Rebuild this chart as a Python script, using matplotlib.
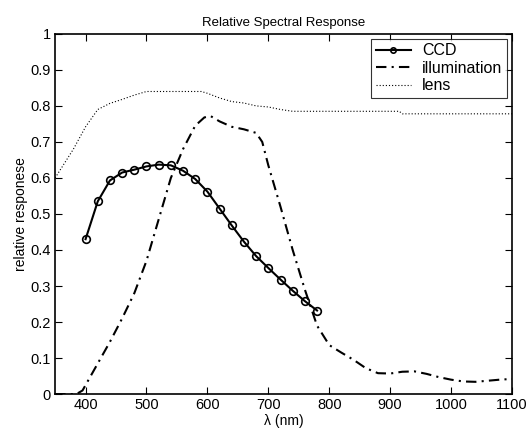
import matplotlib
matplotlib.use("Agg")
import matplotlib.pyplot as plt

# ── Data ──────────────────────────────────────────────────────────────────────
ccd_nm = [400, 420, 440, 460, 480, 500, 520, 540, 560, 580,
          600, 620, 640, 660, 680, 700, 720, 740, 760, 780]
ccd_resp = [0.430, 0.535, 0.593, 0.615, 0.623, 0.632, 0.637, 0.635, 0.620, 0.597,
            0.562, 0.515, 0.468, 0.423, 0.383, 0.350, 0.318, 0.287, 0.258, 0.232]

illum_nm = [350, 370, 385, 395, 405, 420, 440, 460, 480, 500, 520, 540, 560,
            580, 595, 605, 620, 640, 660, 680, 690, 700, 720, 740, 760, 780,
            800, 820, 840, 860, 880, 900, 920, 940, 960, 980, 1000, 1020,
            1040, 1060, 1080, 1100]
illum_resp = [0.0, 0.0, 0.0, 0.01, 0.04, 0.085, 0.145, 0.21, 0.28, 0.37, 0.485,
              0.60, 0.68, 0.745, 0.768, 0.772, 0.757, 0.742, 0.735, 0.725, 0.70,
              0.635, 0.52, 0.40, 0.29, 0.19, 0.136, 0.115, 0.095, 0.072, 0.058,
              0.057, 0.062, 0.063, 0.056, 0.047, 0.040, 0.035, 0.034, 0.037,
              0.040, 0.042]

lens_nm = [350, 365, 380, 400, 420, 440, 460, 480, 500, 520, 540, 560, 580,
           590, 600, 620, 640, 660, 680, 700, 720, 740, 760, 800, 850, 900,
           915, 920, 950, 1000, 1050, 1100]
lens_resp = [0.60, 0.64, 0.68, 0.742, 0.79, 0.807, 0.818, 0.83, 0.84, 0.84,
             0.84, 0.84, 0.84, 0.84, 0.835, 0.822, 0.812, 0.808, 0.80, 0.797,
             0.79, 0.785, 0.785, 0.785, 0.785, 0.785, 0.785, 0.778, 0.778,
             0.778, 0.778, 0.778]

x_ticks = [400, 500, 600, 700, 800, 900, 1000, 1100]
y_ticks = [0, 0.1, 0.2, 0.3, 0.4, 0.5, 0.6, 0.7, 0.8, 0.9, 1]
y_labels = ["0", "0.1", "0.2", "0.3", "0.4", "0.5", "0.6", "0.7", "0.8", "0.9", "1"]

plt.rcParams["font.family"] = ["Liberation Sans", "DejaVu Sans"]

fig = plt.figure(figsize=(5.30, 4.34), dpi=100)
ax = fig.add_axes([0.104, 0.092, 0.862, 0.830])

ax.plot(ccd_nm, ccd_resp, color="black", linewidth=1.5, marker="o",
        markersize=5.5, markerfacecolor="none", markeredgewidth=1.2, label="CCD")
ax.plot(illum_nm, illum_resp, color="black", linewidth=1.5,
        linestyle=(0, (5, 2.5, 1, 2.5)), label="illumination")
ax.plot(lens_nm, lens_resp, color="black", linewidth=0.8,
        linestyle=(0, (1, 1.8)), label="lens")

ax.set_xlim(350, 1100)
ax.set_ylim(0, 1)
ax.set_xticks(x_ticks)
ax.set_yticks(y_ticks)
ax.set_yticklabels(y_labels)
ax.tick_params(direction="in", top=True, right=True, length=5, width=0.8,
               labelsize=10.5, pad=3)
for s in ax.spines.values():
    s.set_linewidth(1.2)

ax.set_title("Relative Spectral Response", fontsize=9.5, pad=6)
ax.set_xlabel("λ (nm)", fontsize=10, labelpad=1)
ax.set_ylabel("relative responese", fontsize=10, labelpad=2)

leg = ax.legend(loc="upper right", fontsize=11.5, frameon=True, fancybox=False,
                edgecolor="black", borderpad=0.3, labelspacing=0.15,
                handlelength=2.2, handletextpad=0.7, borderaxespad=0.3,
                markerscale=0.7)
leg.get_frame().set_linewidth(0.8)

plt.savefig("out.png", dpi=100)
plt.close()
